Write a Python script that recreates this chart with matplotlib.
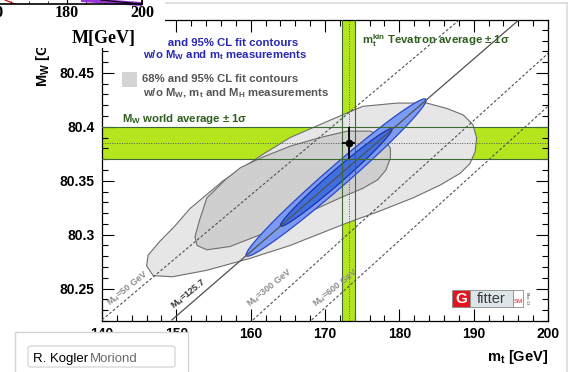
import numpy as np
import matplotlib
matplotlib.use('Agg')
import matplotlib.pyplot as plt
from matplotlib.patches import Polygon, Rectangle, FancyBboxPatch
from matplotlib.ticker import MultipleLocator, FuncFormatter
from matplotlib.lines import Line2D

plt.rcParams['font.family'] = ['Liberation Sans', 'DejaVu Sans']
plt.rcParams['font.weight'] = 'bold'
plt.rcParams['axes.labelweight'] = 'bold'
plt.rcParams['mathtext.fontset'] = 'custom'
plt.rcParams['mathtext.default'] = 'regular'

# ── DATA ──────────────────────────────────────────────────────────────────────
MT_RANGE = (140, 200)
MW_RANGE = (80.22, 80.499)

MW_AVG, MW_ERR = 80.385, 0.015     # M_W world average
MT_AVG, MT_ERR = 173.2, 0.9        # m_t Tevatron average

# fit w/o M_W, m_t and M_H : 95% and 68% CL contours
gray95_mt = [146.0, 146.2, 147.8, 149.8, 151.8, 156.3, 161.3, 165.3, 169.3, 172.0,
             175.1, 179.7, 183.7, 186.4, 188.6, 189.9, 190.4, 190.2, 189.5, 188.2,
             185.5, 181.8, 177.4, 173.0, 165.3, 159.9, 154.1, 149.5, 146.9]
gray95_mw = [80.271, 80.281, 80.294, 80.308, 80.324, 80.350, 80.373, 80.390, 80.402, 80.410,
             80.419, 80.422, 80.422, 80.417, 80.411, 80.402, 80.390, 80.377, 80.366, 80.357,
             80.346, 80.334, 80.322, 80.311, 80.290, 80.278, 80.267, 80.261, 80.262]
gray68_mt = [152.5, 153.1, 154.1, 156.6, 158.6, 161.3, 165.3, 169.3, 173.0, 176.1, 177.8,
             178.8, 178.8, 178.2, 177.1, 175.1, 172.0, 166.6, 161.3, 157.2, 154.1, 152.8]
gray68_mw = [80.298, 80.313, 80.334, 80.351, 80.362, 80.371, 80.382, 80.390, 80.396, 80.396, 80.391,
             80.380, 80.371, 80.360, 80.351, 80.343, 80.334, 80.317, 80.300, 80.289, 80.286, 80.290]

# fit w/o M_W and m_t (M_H measured) : central values, errors, correlation
blue_mt, blue_mt_err = 171.5, 4.95
blue_mw, blue_mw_err = 80.353, 0.0298
blue_rho = 0.984

# SM prediction for fixed M_H
mh_labels = ['M$_H$=50 GeV', 'M$_H$=125.7', 'M$_H$=300 GeV', 'M$_H$=600 GeV']
mh_mt_lo = [140.0, 149.4, 160.3, 168.2]
mh_mw_lo = [80.221, 80.221, 80.221, 80.221]
mh_mt_hi = [188.4, 196.4, 200.0, 200.0]
mh_mw_hi = [80.501, 80.501, 80.468, 80.419]
mh_lab_mt = [143.5, 151.6, 162.6, 171.4]
mh_lab_mw = [80.250, 80.245, 80.250, 80.250]

CHI2_68, CHI2_95 = 2.30, 5.99

# ── COLOURS ───────────────────────────────────────────────────────────────────
LIME = '#b5e61d'
DKGREEN = '#3d6a34'
TXTGREEN = '#2f5f1f'
BLUE_TXT = '#2828b4'


def gauss_contour(mt0, smt, mw0, smw, rho, chi2):
    t = np.linspace(0, 2 * np.pi, 240)
    cov = np.array([[smt ** 2, rho * smt * smw], [rho * smt * smw, smw ** 2]])
    L = np.linalg.cholesky(cov)
    pts = (L @ np.vstack([np.cos(t), np.sin(t)])) * np.sqrt(chi2)
    return mt0 + pts[0], mw0 + pts[1]


# ── FIGURE ────────────────────────────────────────────────────────────────────
fig = plt.figure(figsize=(5.74, 3.72), dpi=100)
ax = fig.add_axes([0.1777, 0.1371, 0.7770, 0.8091])
ax.set_xlim(*MT_RANGE)
ax.set_ylim(*MW_RANGE)

# bands
ax.axhspan(MW_AVG - MW_ERR, MW_AVG + MW_ERR, color=LIME, lw=0, zorder=1)
ax.axvspan(MT_AVG - MT_ERR, MT_AVG + MT_ERR, color=LIME, lw=0, zorder=1)

# gray contours
ax.add_patch(Polygon(np.column_stack([gray95_mt, gray95_mw]), closed=True,
                     fc='#e6e6e6', ec='#6e6e6e', lw=0.8, zorder=2))
ax.add_patch(Polygon(np.column_stack([gray68_mt, gray68_mw]), closed=True,
                     fc='#cfcfcf', ec='#6e6e6e', lw=0.8, zorder=3))

# blue contours
x95, y95 = gauss_contour(blue_mt, blue_mt_err, blue_mw, blue_mw_err, blue_rho, CHI2_95)
x68, y68 = gauss_contour(blue_mt, blue_mt_err, blue_mw, blue_mw_err, blue_rho, CHI2_68)
ax.fill(x95, y95, fc='#7b9cf2', ec='#2a46c8', lw=0.9, zorder=4)
ax.fill(x68, y68, fc='#4070e0', ec='#1c2fa8', lw=0.9, zorder=5)

# band edges and centre lines
for v in (MW_AVG - MW_ERR, MW_AVG + MW_ERR):
    ax.axhline(v, color=DKGREEN, lw=0.8, zorder=6)
for v in (MT_AVG - MT_ERR, MT_AVG + MT_ERR):
    ax.axvline(v, color=DKGREEN, lw=0.8, zorder=6)
ax.axhline(MW_AVG, color='#555555', lw=0.7, ls=(0, (1, 1.5)), zorder=6)
ax.axvline(MT_AVG, color='#555555', lw=0.7, ls=(0, (1, 1.5)), zorder=6)

# fixed M_H lines
for i, lab in enumerate(mh_labels):
    solid = '125.7' in lab
    ax.plot([mh_mt_lo[i], mh_mt_hi[i]], [mh_mw_lo[i], mh_mw_hi[i]],
            color='#505050', lw=0.9 if solid else 0.8,
            ls='-' if solid else (0, (2.5, 1.8)), zorder=6)
    ax.text(mh_lab_mt[i], mh_lab_mw[i], lab, rotation=39, fontsize=6.5,
            color='#333333' if solid else '#8c8c8c', ha='center', va='center',
            rotation_mode='anchor', zorder=7)

# measurement point
ax.errorbar(MT_AVG, MW_AVG, xerr=MT_ERR, yerr=MW_ERR, fmt='o', color='black',
            ms=4.5, lw=1.3, capsize=0, zorder=8)

# ── LEGEND TEXT ───────────────────────────────────────────────────────────────
tkw = dict(transform=ax.transAxes, fontsize=8.2, va='baseline', zorder=9)
ax.text(0.0897, 0.914, '68% and 95% CL fit contours', color=BLUE_TXT, **tkw)
ax.text(0.0919, 0.874, 'w/o M$_W$ and m$_t$ measurements', color=BLUE_TXT, **tkw)
ax.add_patch(Rectangle((0.0448, 0.777), 0.0336, 0.0498, transform=ax.transAxes,
                       fc='#d4d4d4', ec='none', zorder=9))
ax.text(0.0897, 0.794, '68% and 95% CL fit contours', color='#555555', **tkw)
ax.text(0.0919, 0.748, 'w/o M$_W$, m$_t$ and M$_H$ measurements', color='#555555', **tkw)
ax.text(0.0448, 0.661, 'M$_W$ world average ± 1σ', color=TXTGREEN, **tkw)
ax.text(0.583, 0.920, 'm$_t^{kin}$ Tevatron average ± 1σ', color=TXTGREEN, **tkw)

# Gfitter logo
lkw = dict(transform=ax.transAxes, ec='#8a8a8a', lw=0.6, zorder=9)
ax.add_patch(Rectangle((0.7848, 0.0465), 0.0403, 0.0565, fc='#e3141c', **lkw))
ax.add_patch(Rectangle((0.8251, 0.0465), 0.0964, 0.0565, fc='#dde5e9', **lkw))
ax.add_patch(Rectangle((0.9215, 0.0465), 0.0224, 0.0565, fc='white', **lkw))
ax.text(0.8050, 0.074, 'G', color='white', fontsize=11, ha='center', va='center',
        transform=ax.transAxes, zorder=10)
ax.text(0.8733, 0.072, 'fitter', color='#3a3a3a', fontsize=10.5, weight='normal',
        ha='center', va='center', transform=ax.transAxes, zorder=10)
ax.text(0.9327, 0.066, 'SM', color='#e3141c', fontsize=4.5, weight='normal',
        ha='center', va='center', transform=ax.transAxes, zorder=10)
ax.text(0.9525, 0.075, 'Mar 13', color='#777777', fontsize=2.8, rotation=-90,
        ha='center', va='center', transform=ax.transAxes, zorder=10)

# ── AXES ──────────────────────────────────────────────────────────────────────
ax.xaxis.set_major_locator(MultipleLocator(10))
ax.xaxis.set_minor_locator(MultipleLocator(2))
ax.yaxis.set_major_locator(MultipleLocator(0.05))
ax.yaxis.set_minor_locator(MultipleLocator(0.01))
ax.yaxis.set_major_formatter(FuncFormatter(lambda v, _: f'{v:g}'))
ax.tick_params(which='both', direction='in', top=True, right=True, width=0.8)
ax.tick_params(which='major', length=8.5, labelsize=10)
ax.tick_params(which='minor', length=4.3)
ax.tick_params(axis='y', pad=5.5)
ax.tick_params(axis='x', pad=4)
for s in ax.spines.values():
    s.set_linewidth(0.9)

ax.set_xlabel('m$_t$ [GeV]', fontsize=10.5, weight='bold', ha='right', va='center')
ax.xaxis.set_label_coords(1.0, -0.1196)
ax.set_ylabel('M$_W$ [GeV]', fontsize=10.5, weight='bold', ha='right', va='center')
ax.yaxis.set_label_coords(-0.1323, 1.0)

# ── PAGE FRAME ────────────────────────────────────────────────────────────────
fig.add_artist(Line2D([165 / 574, 567 / 574], [0.992, 0.992], color='#dadada', lw=1.2))
fig.add_artist(Line2D([567 / 574, 567 / 574], [0.0, 0.992], color='#dadada', lw=1.2))

# neighbouring plot, clipped at the top left
fig.add_artist(Rectangle((0, 1 - 48 / 372), 165 / 574, 48 / 372, transform=fig.transFigure,
                         fc='white', ec='none', zorder=5))
frag = fig.add_axes([-0.0793, 1 - 4 / 372, 0.3267, 44 / 372], zorder=6)
frag.set_facecolor('none')
frag.set_xlim(150, 200)
frag.set_ylim(0, 1)
for side in ('top', 'left'):
    frag.spines[side].set_visible(False)
for side in ('bottom', 'right'):
    frag.spines[side].set_linewidth(1.2)
frag.xaxis.set_major_locator(MultipleLocator(20))
frag.xaxis.set_minor_locator(MultipleLocator(5))
frag.tick_params(which='both', direction='in', left=False, labelleft=False, pad=0.5)
frag.tick_params(which='major', length=4)
frag.tick_params(which='minor', length=2)
for lab in frag.get_xticklabels():
    lab.set_family(['Liberation Serif'])
    lab.set_fontsize(11.5)
frag_purple_x = [184.3, 191.5, 199.5]
frag_purple_y = [0.09, 0.05, 0.0]
frag_black_x = [189.0, 195.0, 200.0]
frag_black_y = [0.09, 0.04, 0.0]
frag_red_x = [163.5, 166.1]
frag_red_y = [0.09, 0.0]
frag.plot(frag_purple_x, frag_purple_y, color='#9a34d6', lw=3, clip_on=False)
frag.plot(frag_black_x, frag_black_y, color='black', lw=0.8)
frag.plot(frag_red_x, frag_red_y, color='#c01010', lw=0.9)
fig.text(72 / 574, 1 - 38 / 372, 'M[GeV]', family=['Liberation Serif'], fontsize=13,
         ha='left', va='center', zorder=7)

# caption field at the bottom left
fig.add_artist(FancyBboxPatch((15 / 574, -0.01), 173 / 574, 40 / 372 + 0.01,
                              boxstyle='square,pad=0', transform=fig.transFigure,
                              fc='white', ec='#d4d4d4', lw=1, zorder=5))
fig.add_artist(FancyBboxPatch((28 / 574, 5 / 372), 147 / 574, 21 / 372,
                              boxstyle='round,pad=0,rounding_size=0.006',
                              transform=fig.transFigure, fc='white', ec='#cfcfcf',
                              lw=0.8, zorder=6))
fig.text(33 / 574, 1 - 359 / 372, 'R. Kogler', fontsize=9.5, weight='normal',
         color='black', va='center', zorder=7)
fig.text(90 / 574, 1 - 359 / 372, 'Moriond', fontsize=9.5, weight='normal',
         color='#6a6a6a', va='center', zorder=7)

fig.savefig('out.png', dpi=100)
